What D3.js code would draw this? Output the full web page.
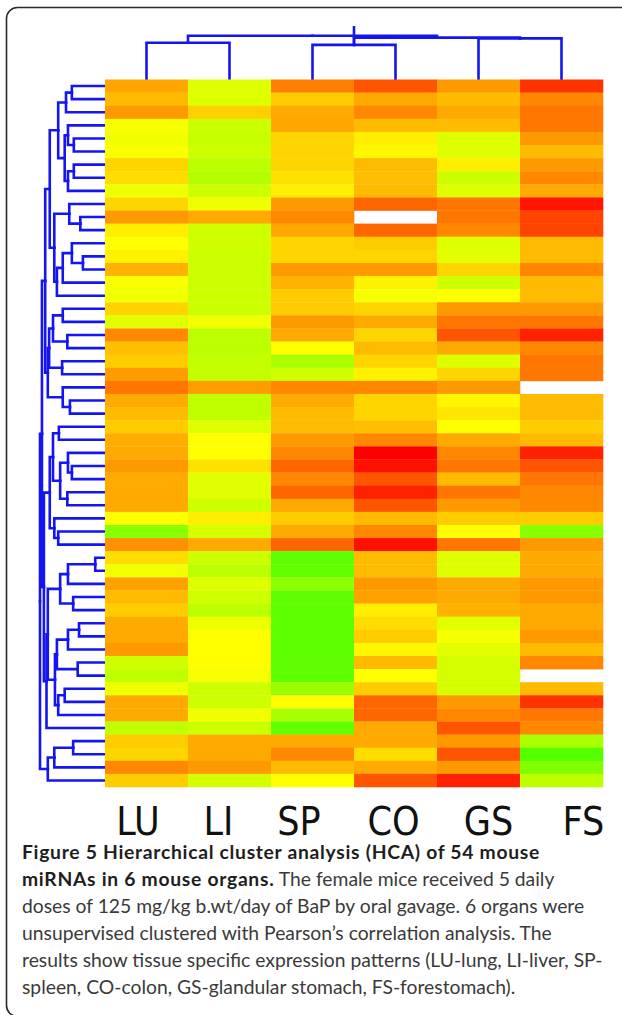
<!DOCTYPE html>
<html><head><meta charset="utf-8">
<script src="https://cdn.jsdelivr.net/npm/d3@7"></script>
<style>body{margin:0;background:#fff}svg{display:block}</style>
</head><body>
<svg id="chart" width="622" height="1015"></svg>
<script>
// ---------------- data ----------------
const organs = ["LU", "LI", "SP", "CO", "GS", "FS"];
// expression level per miRNA row (0 = lowest / green, 10 = highest / red), null = missing
const LU = [6.1,5.6,6.4,3.8,3.7,3.9,5.0,4.8,3.6,5.0,6.4,4.4,4.0,4.3,5.8,
            3.8,3.7,5.0,3.3,6.8,5.5,5.2,6.3,7.2,6.0,5.6,5.2,5.9,6.0,6.4,
            6.0,6.0,6.0,4.0,1.2,6.6,4.8,3.7,6.2,5.6,5.2,6.0,6.0,6.4,
            2.9,2.5,3.6,6.0,6.0,2.5,5.2,5.0,6.8,5.2];
const LI = [3.2,3.2,5.1,2.8,2.7,2.8,2.4,2.2,2.8,3.6,6.0,2.9,2.9,2.8,2.8,
            2.8,2.8,2.8,3.7,2.4,2.4,2.6,2.6,6.3,2.5,2.5,3.2,4.0,4.0,4.7,
            3.3,3.3,2.8,4.4,3.0,6.0,2.8,2.4,3.2,2.9,2.4,3.6,4.0,4.0,
            4.0,3.8,2.8,2.8,3.7,2.8,6.0,6.0,6.4,3.0];
const SP = [7.0,5.2,6.0,6.1,5.0,5.0,5.0,4.7,4.4,6.4,6.8,6.1,5.0,5.0,6.4,
            5.8,5.2,5.2,6.4,6.0,4.0,2.0,2.9,6.8,6.0,5.6,5.6,6.4,6.8,7.6,
            6.8,7.6,6.0,5.2,6.0,7.6,0.2,0.3,1.3,0.2,0.2,0.2,0.2,0.2,
            0.2,0.2,1.6,4.0,2.0,0.3,6.0,6.8,5.6,4.0];
const CO = [8.0,6.0,6.8,5.6,4.4,4.2,5.6,5.5,5.6,7.6,null,7.6,5.2,5.0,6.4,
            4.3,3.8,5.0,6.0,5.0,5.6,5.0,4.3,6.8,5.0,5.0,5.5,6.8,10,9.6,
            8.0,9.2,8.0,5.6,6.8,9.6,5.6,5.6,6.4,6.2,4.4,4.8,5.2,4.2,
            5.6,4.0,5.2,7.6,7.6,6.0,6.0,4.8,6.0,8.0];
const GS = [6.4,5.6,6.0,5.6,3.2,3.2,4.4,2.8,3.2,7.2,7.2,6.8,3.2,3.3,5.0,
            2.8,4.0,6.4,7.2,8.0,6.0,3.2,5.0,6.4,4.2,4.6,4.0,6.0,6.8,7.2,
            5.6,7.2,6.4,5.2,4.0,7.2,3.2,3.2,6.0,6.0,5.8,3.3,3.8,3.3,
            3.0,3.0,3.0,6.4,6.8,8.0,6.4,8.0,6.4,9.2];
const FS = [8.8,6.8,7.2,7.2,6.4,5.6,6.4,6.8,6.0,9.5,8.4,8.4,5.6,5.6,6.8,
            5.6,5.6,6.4,7.2,9.2,6.8,7.2,7.2,null,5.6,5.6,5.2,5.6,9.2,8.0,
            7.2,6.8,6.8,5.2,1.2,6.4,6.0,6.0,6.4,6.4,6.0,6.0,6.4,5.6,
            6.8,null,5.6,8.8,7.2,6.8,2.0,0.0,1.0,2.4];

// organ clustering: [left, right, merge distance]; numbers are organ indices
const organTree = [[0, 1, 0.84], [[2, 3, 0.79], [4, 5, 0.94], 0.955], 1.0];

// miRNA clustering: [left, right, merge distance]; numbers are row indices
const rowTop = [
  [[[0, 1, 0.51], 2, 0.60], [[3, [4, 5, 0.48], 0.57], [[6, 7, 0.48], 8, 0.57], 0.62], 0.72],
  [[9, [10, 11, 0.38], 0.55], [[[12, [13, 14, 0.34], 0.51], 15, 0.65], 16, 0.74], 0.78],
  0.85];
const rowMid1 = [
  [[[17, 18, 0.65], [19, 20, 0.58], 0.80], [21, 22, 0.66], 0.86],
  [23, [24, 25, 0.54], 0.65], 0.88];
const rowMid2 = [
  [[26, 27, 0.71], [[28, [29, 30, 0.51], 0.57], [31, 32, 0.58], 0.69], 0.80],
  [33, [34, 35, 0.72], 0.78], 0.85];
const rowMid3 = [
  [[[36, 37, 0.15], 38, 0.57], [39, 40, 0.49], 0.69],
  [[[[41, 42, 0.40], 43, 0.57], [44, 45, 0.42], 0.74], [[46, 47, 0.62], 48, 0.72], 0.77],
  0.88];
const rowBottom = [[[50, 51, 0.49], 52, 0.78], 53, 0.88];
const rowTree = [[[rowTop, rowMid1, 0.92], [rowMid2, [rowMid3, 49, 0.90], 0.94], 0.97], rowBottom, 1.0];

const captionLines = [
  [["Figure 5 Hierarchical cluster analysis (HCA) of 54 mouse", true]],
  [["miRNAs in 6 mouse organs.", true], [" The female mice received 5 daily", false]],
  [["doses of 125 mg/kg b.wt/day of BaP by oral gavage. 6 organs were", false]],
  [["unsupervised clustered with Pearson\u2019s correlation analysis. The", false]],
  [["results show tissue specific expression patterns (LU-lung, LI-liver, SP-", false]],
  [["spleen, CO-colon, GS-glandular stomach, FS-forestomach).", false]]
];

// ---------------- drawing ----------------
const svg = d3.select("#chart");
const series = {LU, LI, SP, CO, GS, FS};
const nRows = LU.length;

const heat = {x0: 105, x1: 603, y0: 79.5, y1: 787};
const x = d3.scaleBand().domain(organs).range([heat.x0, heat.x1]);
const y = d3.scaleBand().domain(d3.range(nRows)).range([heat.y0, heat.y1]);
const hue = d3.scaleLinear().domain([0, 10]).range([100, 0]).clamp(true);
const color = v => d3.hsl(hue(v), 1, 0.5).toString();

// frame
svg.append("rect").attr("x", 6.5).attr("y", 7.5).attr("width", 720).attr("height", 1009)
  .attr("rx", 11).attr("fill", "none").attr("stroke", "#2a2a2a").attr("stroke-width", 1.6);

// dendrogram helpers
function build(node, pos) {
  if (typeof node === "number") return {p: pos(node), h: 0};
  const a = build(node[0], pos), b = build(node[1], pos);
  return {p: (a.p + b.p) / 2, h: node[2], kids: [a, b]};
}
function linksOf(n, acc = []) {
  if (!n.kids) return acc;
  n.kids.forEach(k => { acc.push({s: n, t: k}); linksOf(k, acc); });
  return acc;
}
const blue = "#1515f2";

// row dendrogram (left)
const rowDist = d3.scaleLinear().domain([0, 1]).range([heat.x0, 40]);
const rowRoot = build(rowTree, i => y(i) + y.bandwidth() / 2);
svg.append("g").selectAll("path").data(linksOf(rowRoot)).join("path")
  .attr("d", l => `M${rowDist(l.s.h)},${l.s.p}V${l.t.p}H${rowDist(l.t.h)}`)
  .attr("fill", "none").attr("stroke", blue).attr("stroke-width", 2.6).attr("stroke-linecap", "square");

// column dendrogram (top)
const colDist = d3.scaleLinear().domain([0, 1]).range([heat.y0, 35.7]);
const colRoot = build(organTree, i => x(organs[i]) + x.bandwidth() / 2);
svg.append("g").selectAll("path").data(linksOf(colRoot)).join("path")
  .attr("d", l => `M${l.s.p},${colDist(l.s.h)}H${l.t.p}V${colDist(l.t.h)}`)
  .attr("fill", "none").attr("stroke", blue).attr("stroke-width", 2.6).attr("stroke-linecap", "square");
// root stub of the organ tree
const spco = colRoot.kids[1].kids[0];
svg.append("path").attr("d", `M${spco.p},${colDist(1.22)}V${colDist(spco.h)}`)
  .attr("stroke", blue).attr("stroke-width", 2.6).attr("fill", "none");

// heatmap cells
const cells = [];
organs.forEach(o => series[o].forEach((v, i) => { if (v != null) cells.push({o, i, v}); }));
svg.append("g").selectAll("rect").data(cells).join("rect")
  .attr("x", d => x(d.o)).attr("y", d => y(d.i))
  .attr("width", x.bandwidth() + 0.3).attr("height", y.bandwidth() + 0.3)
  .attr("fill", d => color(d.v));

// column labels
const labelX = d3.scaleLinear().domain([0, 2, 3, 5]).range([138, 299, 393.5, 583.5]);
svg.append("g").selectAll("text").data(organs).join("text")
  .attr("x", (d, i) => labelX(i)).attr("y", 835)
  .attr("text-anchor", "middle")
  .attr("font-family", "'DejaVu Sans Condensed', 'DejaVu Sans', sans-serif")
  .attr("font-size", 39).attr("fill", "#111").text(d => d);

// caption
const cap = svg.append("g").attr("font-family", "Lato, 'Open Sans', sans-serif");
const capText = cap.selectAll("text").data(captionLines).join("text")
  .attr("x", 22).attr("y", (d, i) => 859 + i * 27).attr("font-size", 17);
capText.selectAll("tspan").data(d => d).join("tspan")
  .attr("font-weight", d => d[1] ? 700 : 400)
  .attr("fill", d => d[1] ? "#1e1e1e" : "#3a3a3a")
  .text(d => d[0]);
// fit the caption width to the figure's text column
const ref = capText.filter((d, i) => i === 4).node();
const fs = 17 * 581 / ref.getComputedTextLength();
capText.attr("font-size", fs);
// widen bold run so the title line spans the same width as in the figure
const title = capText.filter((d, i) => i === 0);
const tw = title.node().getComputedTextLength();
const nChars = captionLines[0][0][0].length;
const ls = (518 - tw) / nChars;
capText.selectAll("tspan").filter(d => d[1]).attr("letter-spacing", ls);
</script>
</body></html>
